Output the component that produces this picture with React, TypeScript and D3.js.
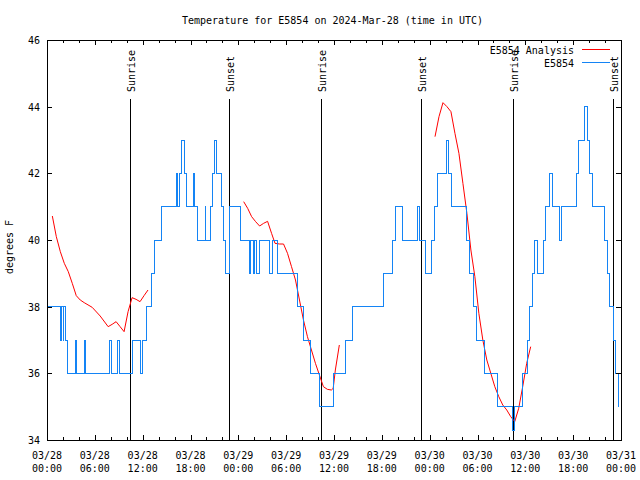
import React from 'react';
import * as d3 from 'd3';

// ---- data ----
const titleText = 'Temperature for E5854 on 2024-Mar-28 (time in UTC)';
const yLabelText = 'degrees F';
const seriesNames = ['E5854 Analysis', 'E5854'];

const yTickValues = [34, 36, 38, 40, 42, 44, 46];
const xTickHours = [0, 6, 12, 18, 24, 30, 36, 42, 48, 54, 60, 66, 72];
const xTickDates = ['03/28', '03/28', '03/28', '03/28', '03/29', '03/29', '03/29', '03/29', '03/30', '03/30', '03/30', '03/30', '03/31'];
const xTickTimes = ['00:00', '06:00', '12:00', '18:00', '00:00', '06:00', '12:00', '18:00', '00:00', '06:00', '12:00', '18:00', '00:00'];

// sunrise / sunset (hours since 03/28 00:00 UTC)
const sunHours = [10.41, 22.87, 34.41, 46.95, 58.5, 71.04];
const sunLabels = ['Sunrise', 'Sunset', 'Sunrise', 'Sunset', 'Sunrise', 'Sunset'];

// Observations E5854 (hours since 03/28 00:00 UTC, degrees F), value holds until next time
const obsHours = [
  0, 1.72, 1.84, 2.01, 2.13, 2.26, 2.57, 3.6, 3.76, 4.68, 4.85, 7.81, 8.03, 8.87, 9.07, 10.75,
  11.79, 12.0, 12.48, 13.17, 13.48, 14.36, 16.24, 16.43, 16.62, 16.9, 17.19, 17.44, 18.35, 18.56,
  18.82, 19.82, 19.94, 20.53, 20.74, 20.99, 21.32, 21.91, 22.08, 22.33, 22.83, 24.3, 25.38, 25.55,
  25.88, 26.0, 26.22, 26.63, 27.89, 28.31, 28.89, 31.36, 32.15, 32.99, 34.24, 35.94, 37.38, 38.32,
  42.27, 43.28, 43.72, 44.59, 46.5, 46.73, 47.42, 48.29, 48.61, 48.98, 50.14, 50.34, 50.68, 52.56,
  53.0, 53.44, 53.88, 54.88, 56.51, 58.39, 58.64, 59.65, 60.21, 60.52, 60.84, 61.09, 61.53, 62.26,
  62.53, 63.03, 63.47, 64.29, 64.56, 66.36, 66.67, 67.36, 67.8, 68.05, 68.43, 69.93, 70.31, 70.62,
  71.0, 71.31, 71.63, 71.79,
];
const obsValues = [
  38, 37, 38, 37, 38, 37, 36, 37, 36, 37, 36, 37, 36, 37, 36, 37,
  36, 37, 38, 39, 40, 41, 42, 41, 42, 43, 42, 41, 42, 41,
  40, 41, 40, 41, 42, 43, 42, 41, 40, 39, 41, 40, 39, 40,
  39, 40, 39, 40, 39, 40, 39, 38, 37, 36, 35, 36, 37, 38,
  39, 40, 41, 40, 41, 40, 39, 40, 41, 42, 43, 42, 41, 40,
  39, 38, 37, 36, 35, 34.3, 35, 36, 37, 38, 39, 40, 39, 40,
  41, 42, 41, 40, 41, 42, 43, 44, 43, 42, 41, 40, 39, 38,
  37, 36, 35, 35,
];

// Analysis (null = gap)
const analysisHours = [
  0.67, 1.17, 1.67, 2.17, 2.67, 3.17, 3.67, 4.17, 4.67, 5.67, 6.67, 7.67, 8.17, 8.67, 9.17, 9.67, 10.17, 10.67, 11.17, 11.67, 12.17, 12.67,
  18,
  24.67, 25.17, 25.67, 26.17, 26.67, 27.17, 27.67, 28.17, 28.6, 29.17, 29.67, 30.17, 30.67, 31.17, 31.67, 32.17, 32.67, 33.17, 33.67, 34.17, 34.67, 35.17, 35.67, 35.9, 36.17, 36.67,
  42,
  48.67, 49.17, 49.67, 50.17, 50.67, 51.17, 51.67, 52.17, 52.67, 53.17, 53.67, 54.17, 54.67, 55.17, 55.67, 56.17, 56.67, 57.17, 57.67, 58.17, 58.67, 59.17, 59.67, 60.17, 60.67,
];
const analysisValues: (number | null)[] = [
  40.72, 40.1, 39.65, 39.3, 39.05, 38.7, 38.33, 38.2, 38.12, 37.98, 37.72, 37.4, 37.47, 37.55, 37.4, 37.25, 37.85, 38.27, 38.22, 38.15, 38.33, 38.5,
  null,
  41.15, 40.95, 40.7, 40.55, 40.42, 40.5, 40.56, 40.2, 39.9, 39.88, 39.88, 39.6, 39.2, 38.8, 38.2, 37.6, 37.1, 36.7, 36.3, 35.95, 35.6, 35.52, 35.5, 35.55, 36.1, 36.85,
  null,
  43.1, 43.7, 44.12, 44.0, 43.85, 43.2, 42.6, 41.7, 40.8, 39.7, 38.9, 37.8, 37.0, 36.4, 36.0, 35.6, 35.3, 35.05, 34.9, 34.7, 34.55, 34.95, 35.6, 36.3, 36.8,
];

const minorTickHours = d3.range(0, 73, 2).filter((h) => h % 6 !== 0);

const FONT = "'DejaVu Sans Mono', monospace";

export default function App() {
  const left = 47, right = 621, top = 40, bottom = 440;
  const x = d3.scaleLinear().domain([0, 72]).range([left, right]);
  const y = d3.scaleLinear().domain([34, 46]).range([bottom, top]);

  const obsData: [number, number][] = obsHours.map((h, i) => [h, obsValues[i]]);
  const anaData: [number, number | null][] = analysisHours.map((h, i) => [h, analysisValues[i]]);

  const obsPath = d3
    .line<[number, number]>()
    .x((d) => x(d[0]))
    .y((d) => y(d[1]))
    .curve(d3.curveStepAfter)(obsData) || '';

  const anaPath = d3
    .line<[number, number | null]>()
    .defined((d) => d[1] != null)
    .x((d) => x(d[0]))
    .y((d) => y(d[1] as number))(anaData) || '';

  const blue = '#1484f5';
  const red = '#ff0000';
  const px = (v: number) => Math.round(v) + 0.5;

  return (
    <svg
      width={640}
      height={480}
      style={{ position: 'absolute', left: 0, top: 0, background: '#fff' }}
      fontFamily={FONT}
      fontSize={10}
    >
      <rect x={0} y={0} width={640} height={480} fill="#fff" />
      <text x={332.5} y={24} textAnchor="middle" fill="#000">{titleText}</text>

      {/* sunrise/sunset lines */}
      {sunHours.map((h, i) => (
        <g key={'sun' + i}>
          <line x1={px(x(h))} x2={px(x(h))} y1={99} y2={bottom} stroke="#000" strokeWidth={1} shapeRendering="crispEdges" />
          <text
            transform={`translate(${Math.round(x(h)) + 5},92) rotate(-90)`}
            textAnchor="start"
            fill="#000"
          >
            {sunLabels[i]}
          </text>
        </g>
      ))}

      {/* data */}
      <path d={anaPath} fill="none" stroke={red} strokeWidth={1} />
      <path d={obsPath} fill="none" stroke={blue} strokeWidth={1} shapeRendering="crispEdges" />

      {/* frame */}
      <rect x={left + 0.5} y={top + 0.5} width={right - left} height={bottom - top} fill="none" stroke="#000" strokeWidth={1} shapeRendering="crispEdges" />

      {/* y ticks */}
      {yTickValues.map((v) => (
        <g key={'y' + v}>
          <line x1={left} x2={left + 5} y1={px(y(v))} y2={px(y(v))} stroke="#000" shapeRendering="crispEdges" />
          <line x1={right - 5} x2={right} y1={px(y(v))} y2={px(y(v))} stroke="#000" shapeRendering="crispEdges" />
          <text x={40} y={y(v) + 4} textAnchor="end" fill="#000">{v}</text>
        </g>
      ))}

      {/* x major ticks */}
      {xTickHours.map((h, i) => (
        <g key={'x' + h}>
          <line x1={px(x(h))} x2={px(x(h))} y1={bottom} y2={bottom - 5} stroke="#000" shapeRendering="crispEdges" />
          <line x1={px(x(h))} x2={px(x(h))} y1={top} y2={top + 5} stroke="#000" shapeRendering="crispEdges" />
          <text x={x(h)} y={459} textAnchor="middle" fill="#000">{xTickDates[i]}</text>
          <text x={x(h)} y={472} textAnchor="middle" fill="#000">{xTickTimes[i]}</text>
        </g>
      ))}
      {/* x minor ticks */}
      {minorTickHours.map((h) => (
        <g key={'m' + h}>
          <line x1={px(x(h))} x2={px(x(h))} y1={bottom} y2={bottom - 3} stroke="#000" shapeRendering="crispEdges" />
          <line x1={px(x(h))} x2={px(x(h))} y1={top} y2={top + 3} stroke="#000" shapeRendering="crispEdges" />
        </g>
      ))}

      {/* y label */}
      <text transform="translate(13,247) rotate(-90)" textAnchor="middle" fill="#000">{yLabelText}</text>

      {/* legend */}
      <text x={574} y={54} textAnchor="end" fill="#000">{seriesNames[0]}</text>
      <line x1={582} x2={610} y1={49.5} y2={49.5} stroke={red} shapeRendering="crispEdges" />
      <text x={574} y={66.5} textAnchor="end" fill="#000">{seriesNames[1]}</text>
      <line x1={582} x2={610} y1={62.5} y2={62.5} stroke={blue} shapeRendering="crispEdges" />
    </svg>
  );
}
